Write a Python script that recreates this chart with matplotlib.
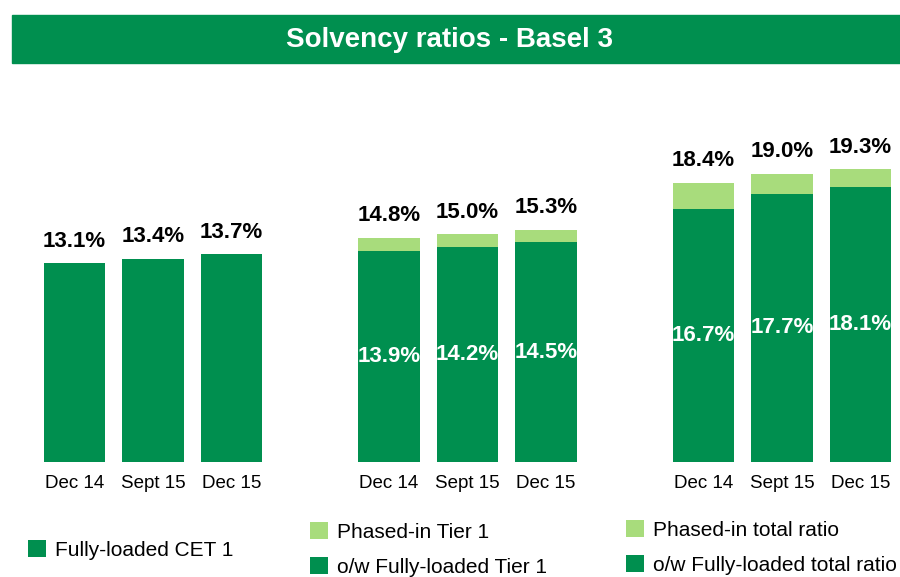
import matplotlib.pyplot as plt
from matplotlib.patches import Rectangle

plt.rcParams['font.family'] = ['Liberation Sans', 'DejaVu Sans']

DARK = '#008f4f'
LIGHT = '#a8dc7c'

periods = ['Dec 14', 'Sept 15', 'Dec 15']

cet1 = [13.1, 13.4, 13.7]
tier1_fully = [13.9, 14.2, 14.5]
tier1_phased = [14.8, 15.0, 15.3]
total_fully = [16.7, 17.7, 18.1]
total_phased = [18.4, 19.0, 19.3]

W, H = 900, 577
fig = plt.figure(figsize=(W / 100, H / 100), dpi=100)

# green banner with the title
fig.patches.append(Rectangle((12 / W, 1 - 63 / H), (W - 12) / W, 48 / H,
                             transform=fig.transFigure, color=DARK, zorder=0))
fig.text(449 / W, 1 - 40 / H, 'Solvency ratios - Basel 3', color='white',
         fontsize=20, fontweight='bold', ha='center', va='center')

pitch = 78.6
ax = fig.add_axes([0, 115 / H, 1, 364 / H])
ax.set_xlim(-74.5 / pitch, (W - 74.5) / pitch)
ax.set_ylim(0, 24)
for s in ax.spines.values():
    s.set_visible(False)
ax.set_yticks([])

width = 0.78
groups = [0, 4, 8]
xs = [[g + i for i in range(3)] for g in groups]

# group 1: fully-loaded CET 1
b_cet = ax.bar(xs[0], cet1, width, color=DARK)
for x, v in zip(xs[0], cet1):
    ax.text(x, v + 1.45, f'{v:.1f}%', ha='center', va='center',
            fontsize=16, fontweight='bold')

# groups 2 and 3: fully-loaded part plus phased-in add-on
stacks = [(xs[1], tier1_fully, tier1_phased), (xs[2], total_fully, total_phased)]
handles = []
for pos, fully, phased in stacks:
    extra = [p - f for p, f in zip(phased, fully)]
    b_f = ax.bar(pos, fully, width, color=DARK)
    b_p = ax.bar(pos, extra, width, bottom=fully, color=LIGHT)
    handles.append((b_p, b_f))
    for x, f, p in zip(pos, fully, phased):
        ax.text(x, f / 2, f'{f:.1f}%', ha='center', va='center', color='white',
                fontsize=16, fontweight='bold')
        ax.text(x, p + 1.45, f'{p:.1f}%', ha='center', va='center',
                fontsize=16, fontweight='bold')

ax.set_xticks([x for row in xs for x in row], periods * 3)
ax.tick_params(axis='x', length=0, pad=9, labelsize=13.5)

leg_kw = dict(frameon=False, fontsize=15, handlelength=0.85, handleheight=0.85,
              handletextpad=0.45, labelspacing=0.75, borderpad=0, borderaxespad=0,
              loc='upper left')
fig.legend([b_cet], ['Fully-loaded CET 1'],
           bbox_to_anchor=(28 / W, 1 - 540 / H), **leg_kw)
fig.legend(list(handles[0]), ['Phased-in Tier 1', 'o/w Fully-loaded Tier 1'],
           bbox_to_anchor=(310 / W, 1 - 522 / H), **leg_kw)
fig.legend(list(handles[1]), ['Phased-in total ratio', 'o/w Fully-loaded total ratio'],
           bbox_to_anchor=(626 / W, 1 - 520 / H), **leg_kw)

fig.savefig('out.png', dpi=100)
